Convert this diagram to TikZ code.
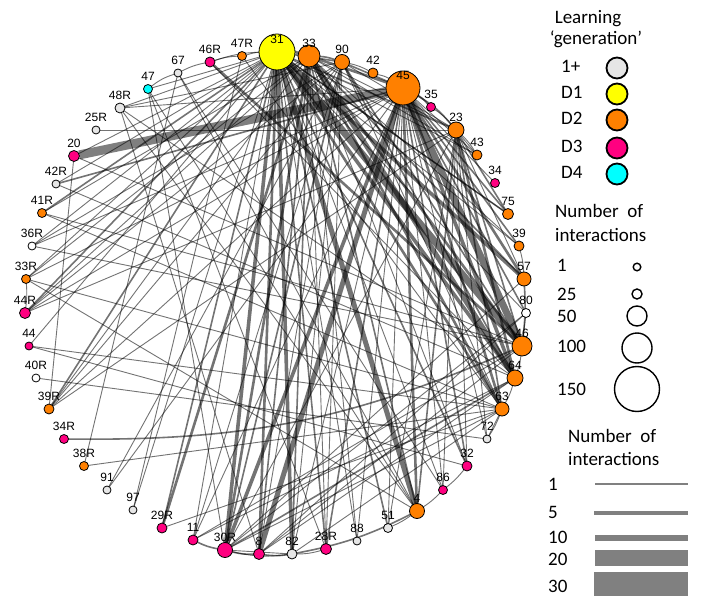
\documentclass[tikz,border=0pt]{standalone}
\usepackage{fontspec}
\setmainfont{Liberation Sans}
\newfontfamily\legfont{Carlito}
\pgfdeclarelayer{edges}
\pgfsetlayers{edges,main}
\definecolor{cO}{RGB}{255,128,0}
\definecolor{cM}{RGB}{255,0,128}
\definecolor{cY}{RGB}{255,255,0}
\definecolor{cC}{RGB}{0,255,255}
\definecolor{cG}{RGB}{230,230,230}
\definecolor{cW}{RGB}{255,255,255}
\definecolor{barc}{RGB}{128,128,128}
\def\nodelist{31/277/52/18/cY, 33/309/56/11/cO, 90/342/62/7.5/cO, 42/373/73/5/cO, 45/403/88/17/cO,
35/431/107/4.5/cM, 23/456/130/8/cO, 43/477/155/5/cO, 34/495/183/4.5/cM, 75/508/214/5.5/cO,
39/519/246/5/cO, 57/524/279/7/cO, 80/526/313/4.5/cW, 46/522/346/10/cO, 64/515/378/8/cO,
63/502/409/7/cO, 72/487/439/4/cG, 32/467/466/5/cM, 86/443/490/4.5/cM, 4/417/511/7.5/cO,
51/388/528/4.5/cG, 88/357/541/4/cG, 28R/326/549/5.5/cM, 82/292/554/5/cG, 8/259/554/5.5/cM,
30R/225/550/7.5/cM, 11/193/540/5/cM, 29R/162/528/5/cM, 97/133/510/4/cG, 91/107/490/4/cG,
38R/84/466/4.5/cO, 34R/64/439/4.5/cM, 39R/49/409/5/cO, 40R/36/378/4/cW, 44/29/346/4/cM,
44R/25/313/5.5/cM, 33R/26/279/4.5/cO, 36R/32/246/4/cW, 41R/42/213/4.5/cO, 42R/56/184/4/cG,
20/74/156/5.5/cM, 25R/96/130/4/cG, 48R/120/108/5/cG, 47/148/89/4.5/cC, 67/178/73/4/cG,
46R/210/62/5/cM, 47R/242/56/4.5/cO}
\begin{document}
\begin{tikzpicture}[x=1pt,y=-1pt,
  nd/.style={circle, draw=black, line width=0.8pt, inner sep=0pt, outer sep=0pt},
  lab/.style={font=\fontsize{12}{14}\selectfont, inner sep=0pt},
  eb/.style={draw=black, draw opacity=0.55, line cap=round},
  e1/.style={eb, line width=0.9pt},
  e2/.style={eb, line width=1.6pt},
  e3/.style={eb, line width=2.6pt},
  e4/.style={eb, line width=3.6pt},
  e5/.style={eb, line width=5pt},
  e6/.style={eb, line width=7pt},
  e8/.style={draw=black, draw opacity=0.5, line width=9pt},
  leg/.style={font=\legfont\fontsize{19}{22}\selectfont, inner sep=0pt},
  lc/.style={circle, draw=black, line width=1.8pt, inner sep=0pt},
  sc/.style={circle, draw=black, line width=1.4pt, inner sep=0pt, fill=white},
  bar/.style={fill=barc, draw=none}]
\useasboundingbox (0,0) rectangle (703,609);
% nodes
\foreach \n/\x/\y/\r/\c in \nodelist {
  \node[nd, fill=\c, minimum size=2*\r] (\n) at (\x,\y) {};
}
\foreach \n/\x/\y/\r/\c in \nodelist {
  \node[lab] (l\n) at (\x,\y-13) {\n};
}
% edges
\begin{pgfonlayer}{edges}
\foreach \a/\b in {20/45} \draw[e8] (\a) -- (\b);
\foreach \a/\b in {31/46, 45/46} \draw[e6] (\a) -- (\b);
\foreach \a/\b in {31/4, 33/64, 45/8} \draw[e5] (\a) -- (\b);
\foreach \a/\b in {31/64, 45/64, 31/82, 31/30R, 45/30R, 31/57} \draw[e4] (\a) -- (\b);
\foreach \a/\b in {45/33, 31/63, 45/63, 45/57, 33/46, 33/30R, 29R/33, 45/4, 31/8, 46R/46, 33/63, 23/64} \draw[e3] (\a) -- (\b);
\foreach \a/\b in {45/90, 31/90, 31/23, 31/28R, 31/29R, 31/41R, 31/51, 31/32, 45/75, 45/39,
  45/32, 45/28R, 42R/45, 33/4, 33/8, 33/82, 90/46, 90/30R, 23/46, 23/4, 23/75, 64/30R,
  31/44R, 31/39R, 31/75, 90/64, 23/63, 45/80, 33/57} \draw[e2] (\a) -- (\b);
\foreach \a/\b in {31/43, 31/39, 31/80, 31/86, 31/88, 31/11, 31/33R, 31/36R, 31/42R, 31/48R,
  31/20, 31/44, 45/43, 45/72, 45/86, 45/51, 45/82, 45/11, 45/44R, 45/36R, 45/33R,
  45/39R, 45/48R, 33/28R, 33/23, 33/44R, 90/8, 90/63, 90/23, 90/91, 23/43,
  23/30R, 23/32, 23/25R, 23/57, 46/80, 46/11, 46/8, 46/41R, 46/20, 64/8, 64/48R,
  63/38R, 63/44, 63/30R, 63/82, 4/67, 4/33R, 4/47, 30R/82, 30R/47, 72/63, 80/30R, 46R/64,
  48R/8, 38R/67, 97/47R, 40R/72, 20/39R, 39R/33, 39R/90, 44R/23, 41R/63, 36R/90,
  11/90, 28R/90, 88/33, 48R/4, 47/28R, 67/86, 42R/64, 36R/46, 33R/63, 39R/23, 44/32,
  47R/63, 44R/90, 33R/33, 41R/33, 48R/90, 47/31, 51/23, 82/90, 88/45, 32/33, 72/23,
  86/23, 57/30R, 64/11, 63/29R, 80/8, 39/33, 75/31, 43/33, 34/45, 91/45, 97/31} \draw[e1] (\a) -- (\b);
% rim arcs
\draw[e3] (31) to[bend left=8] (33);
\draw[e2] (33) to[bend left=8] (90);
\draw[e1] (90) to[bend left=8] (42);
\draw[e1] (42) to[bend left=8] (45);
\draw[e2] (45) to[bend left=8] (35);
\draw[e1] (35) to[bend left=8] (23);
\draw[e2] (45) to[bend left=10] (23);
\draw[e1] (23) to[bend left=8] (43);
\draw[e1] (39) to[bend left=6] (57);
\draw[e2] (57) to[bend left=5] (46);
\draw[e1] (46) to[bend left=6] (64);
\draw[e1] (64) to[bend left=6] (63);
\draw[e1] (63) to[bend left=6] (72);
\draw[e1] (32) to[bend left=6] (86);
\draw[e1] (86) to[bend left=6] (4);
\draw[e2] (4) to[bend left=8] (82);
\draw[e1] (4) to[bend left=6] (51);
\draw[e1] (28R) to[bend left=8] (82);
\draw[e2] (82) to[bend left=8] (8);
\draw[e2] (8) to[bend left=8] (30R);
\draw[e1] (82) to[bend left=10] (30R);
\draw[e2] (30R) to[bend left=8] (11);
\draw[e1] (47) to[bend left=10] (67);
\draw[e1] (67) to[bend left=8] (46R);
\draw[e1] (46R) to[bend left=8] (47R);
\draw[e1] (46R) to[bend left=8] (31);
\draw[e1] (47R) to[bend left=6] (31);
\draw[e1] (33R) to[bend left=6] (44R);
\draw[e2] (34R) to[bend right=12] (46);
\end{pgfonlayer}
% legend: generation
\node[leg, anchor=base] at (588,24) {Learning};
\node[leg, anchor=base] at (596,45) {‘generation’};
\foreach \t/\y/\c in {1+/68/cG, D1/94/cY, D2/120/cO, D3/148/cM, D4/174/cC} {
  \node[leg, anchor=base west] at (561,\y+5) {\t};
  \node[lc, fill=\c, minimum size=21] (g\t) at (617,\y) {};
}
% legend: node size
\node[leg, anchor=base west] at (555,218) {Number\ \ of};
\node[leg, anchor=base west] at (555,242) {interactions};
\foreach \t/\y/\ty/\r in {1/267/272/3.8, 25/294/300/5, 50/316/322/10, 100/348/352/15, 150/389/395/22.5} {
  \node[leg, anchor=base west] at (557,\ty) {\t};
  \node[sc, minimum size=2*\r] (s\t) at (637,\y) {};
}
% legend: edge width
\node[leg, anchor=base west] at (568,442) {Number\ \ of};
\node[leg, anchor=base west] at (568,465) {interactions};
\foreach \t/\y/\w in {1/490/1.4, 5/518/4.5, 10/543/6.5, 20/565/16, 30/592/24} {
  \node[leg, anchor=base west] at (548,\y) {\t};
}
\fill[bar] (595,483.3) rectangle (688,484.7);
\fill[bar] (594,510.8) rectangle (688,515.2);
\fill[bar] (595,534.8) rectangle (688,541.2);
\fill[bar] (595,550) rectangle (688,566);
\fill[bar] (594,572) rectangle (688,596);
\end{tikzpicture}
\end{document}
